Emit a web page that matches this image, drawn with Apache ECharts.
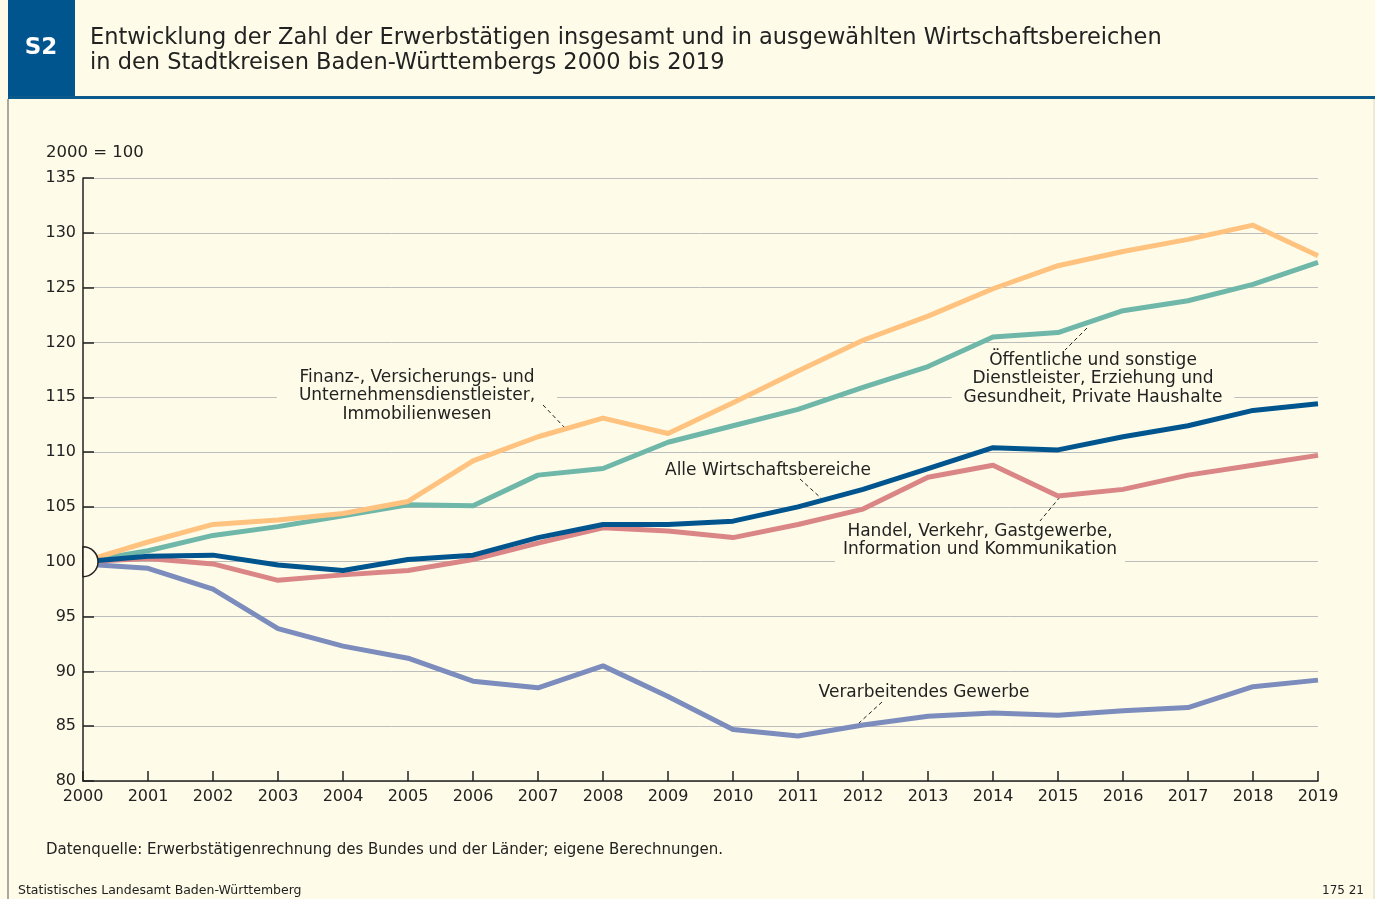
<!DOCTYPE html>
<html>
	<head>
		<meta charset="UTF-8">
		<title>S2</title>
		<style>
			html, body { margin: 0; padding: 0; background: #fefce8; }
			#chart { width: 1375px; height: 899px; }
		</style>
	</head>
	<body>
		<div id="chart"></div>
		<script src="https://cdn.jsdelivr.net/npm/echarts@6/dist/echarts.min.js"></script>
		<script type="text/javascript">
			// Jahre und Indexwerte (2000 = 100)
			var years = ['2000', '2001', '2002', '2003', '2004', '2005', '2006', '2007', '2008', '2009',
				'2010', '2011', '2012', '2013', '2014', '2015', '2016', '2017', '2018', '2019'];
			var yTicks = [80, 85, 90, 95, 100, 105, 110, 115, 120, 125, 130, 135];

			var finanz = [100, 101.8, 103.4, 103.8, 104.4, 105.5, 109.2, 111.4, 113.1, 111.7,
				114.5, 117.4, 120.2, 122.4, 124.9, 127.0, 128.3, 129.4, 130.7, 127.9];
			var oeffentlich = [100, 101.0, 102.4, 103.2, 104.2, 105.2, 105.1, 107.9, 108.5, 110.9,
				112.4, 113.9, 115.9, 117.8, 120.5, 120.9, 122.9, 123.8, 125.3, 127.3];
			var alle = [100, 100.5, 100.6, 99.7, 99.2, 100.2, 100.6, 102.2, 103.4, 103.4,
				103.7, 105.0, 106.6, 108.5, 110.4, 110.2, 111.4, 112.4, 113.8, 114.4];
			var handel = [100, 100.3, 99.8, 98.3, 98.8, 99.2, 100.2, 101.7, 103.1, 102.8,
				102.2, 103.4, 104.8, 107.7, 108.8, 106.0, 106.6, 107.9, 108.8, 109.7];
			var verarbeitend = [99.8, 99.4, 97.5, 93.9, 92.3, 91.2, 89.1, 88.5, 90.5, 87.7,
				84.7, 84.1, 85.1, 85.9, 86.2, 86.0, 86.4, 86.7, 88.6, 89.2];

			var bg = '#fefce8';
			var txt = '#222';
			var font = '"DejaVu Sans", Verdana, sans-serif';

			function lineSeries(name, data, color) {
				return {
					name: name,
					type: 'line',
					data: data,
					symbol: 'none',
					silent: true,
					lineStyle: { color: color, width: 5, join: 'round' }
				};
			}

			function label(text, x, y, pad) {
				return {
					type: 'text',
					z: 1,
					style: {
						text: text,
						x: x,
						y: y,
						align: 'center',
						verticalAlign: 'top',
						font: '17px ' + font,
						lineHeight: 18.5,
						fill: txt,
						backgroundColor: bg,
						padding: pad
					}
				};
			}

			function leader(x1, y1, x2, y2) {
				return {
					type: 'line',
					z: 3,
					shape: { x1: x1, y1: y1, x2: x2, y2: y2 },
					style: { stroke: '#222', lineWidth: 1, lineDash: [4, 3] }
				};
			}

			var chart = echarts.init(document.getElementById('chart'));
			var option = {
				backgroundColor: bg,
				animation: false,
				textStyle: { fontFamily: font },
				grid: { left: 83, right: 57, top: 178, bottom: 118 },
				xAxis: {
					type: 'category',
					data: years,
					boundaryGap: false,
					axisLine: { lineStyle: { color: '#222', width: 1.5 } },
					axisTick: { inside: true, length: 10, lineStyle: { color: '#222', width: 1.5 } },
					axisLabel: { color: txt, fontSize: 16, margin: 8 },
					splitLine: { show: false }
				},
				yAxis: {
					type: 'value',
					min: yTicks[0],
					max: yTicks[yTicks.length - 1],
					interval: 5,
					axisLine: { show: true, lineStyle: { color: '#222', width: 1.5 } },
					axisTick: { show: true, inside: true, length: 11, lineStyle: { color: '#222', width: 1.5 } },
					axisLabel: { color: txt, fontSize: 16, margin: 7 },
					splitLine: { lineStyle: { color: '#bdbdbd', width: 1 } }
				},
				series: [
					lineSeries('Verarbeitendes Gewerbe', verarbeitend, '#7b8cbd'),
					lineSeries('Handel, Verkehr, Gastgewerbe, Information und Kommunikation', handel, '#da8686'),
					lineSeries('Öffentliche und sonstige Dienstleister, Erziehung und Gesundheit, Private Haushalte', oeffentlich, '#6fb7a9'),
					lineSeries('Finanz-, Versicherungs- und Unternehmensdienstleister, Immobilienwesen', finanz, '#ffc27f'),
					lineSeries('Alle Wirtschaftsbereiche', alle, '#00558f')
				],
				graphic: [
					// Kopfzeile
					{ type: 'rect', shape: { x: 8, y: 0, width: 67, height: 97 }, style: { fill: '#00558f' } },
					{ type: 'text', style: { text: 'S2', x: 41, y: 48, align: 'center', verticalAlign: 'middle', font: 'bold 23px ' + font, fill: '#fff' } },
					{ type: 'text', style: { text: 'Entwicklung der Zahl der Erwerbstätigen insgesamt und in ausgewählten Wirtschaftsbereichen\nin den Stadtkreisen Baden-Württembergs 2000 bis 2019', x: 90, y: 26, font: '22.5px ' + font, lineHeight: 25, fill: txt } },
					{ type: 'rect', shape: { x: 8, y: 96, width: 1367, height: 3 }, style: { fill: '#0b5a8e' } },
					{ type: 'rect', shape: { x: 7, y: 99, width: 2, height: 800 }, style: { fill: '#a8a8a0' } },
					{ type: 'rect', shape: { x: 1373, y: 99, width: 2, height: 800 }, style: { fill: '#ecead4' } },
					// Achsenbeschriftung und Fußzeile
					{ type: 'text', style: { text: '2000 = 100', x: 46, y: 153, verticalAlign: 'middle', font: '16.5px ' + font, fill: txt } },
					{ type: 'text', style: { text: 'Datenquelle: Erwerbstätigenrechnung des Bundes und der Länder; eigene Berechnungen.', x: 46, y: 850, verticalAlign: 'middle', font: '15px ' + font, fill: txt } },
					{ type: 'text', style: { text: 'Statistisches Landesamt Baden-Württemberg', x: 18, y: 891, verticalAlign: 'middle', font: '12.5px ' + font, fill: txt } },
					{ type: 'text', style: { text: '175 21', x: 1364, y: 891, align: 'right', verticalAlign: 'middle', font: '12px ' + font, fill: txt } },
					// Beschriftungen der Linien
					label('Finanz-, Versicherungs- und\nUnternehmensdienstleister,\nImmobilienwesen', 417, 360, [8, 22, 8, 22]),
					leader(543, 405, 565, 428),
					label('Öffentliche und sonstige\nDienstleister, Erziehung und\nGesundheit, Private Haushalte', 1093, 345, [6, 12, 6, 12]),
					leader(1087, 328, 1065, 350),
					label('Alle Wirtschaftsbereiche', 768, 457, [4, 8, 8, 8]),
					leader(800, 479, 822, 499),
					label('Handel, Verkehr, Gastgewerbe,\nInformation und Kommunikation', 980, 518, [4, 8, 6, 8]),
					leader(1060, 497, 1040, 521),
					label('Verarbeitendes Gewerbe', 924, 681, [2, 8, 2, 8]),
					leader(882, 702, 859, 723)
				]
			};
			chart.setOption(option);

			// Halbkreis am Indexpunkt 2000 = 100
			var p = chart.convertToPixel({ gridIndex: 0 }, [0, 100]);
			chart.setOption({
				graphic: option.graphic.concat([{
					type: 'sector',
					z: 10,
					shape: { cx: p[0], cy: p[1], r: 15, r0: 0, startAngle: -Math.PI / 2, endAngle: Math.PI / 2 },
					style: { fill: bg, stroke: '#222', lineWidth: 1.5 }
				}])
			});
		</script>
	</body>
</html>
